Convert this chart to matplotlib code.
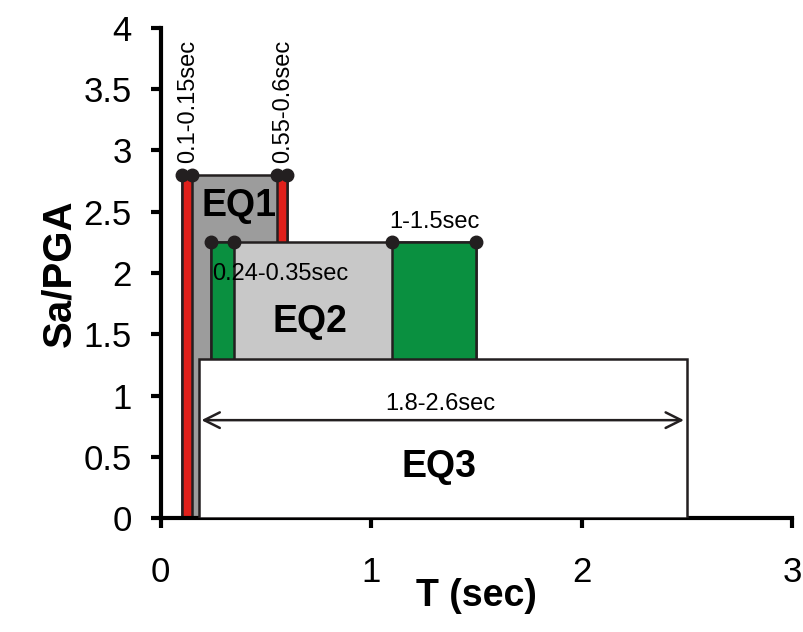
import matplotlib.pyplot as plt
from matplotlib.patches import Rectangle

plt.rcParams['font.family'] = ['Liberation Sans', 'DejaVu Sans']

# plateau boxes (T start, T end, Sa/PGA level)
eq_names = ['EQ1', 'EQ2', 'EQ3']
eq_t0 = [0.10, 0.24, 0.18]
eq_t1 = [0.60, 1.50, 2.50]
eq_level = [2.8, 2.25, 1.3]
eq_colors = ['#9c9c9c', '#c8c8c8', '#ffffff']

# corner period bands
red_bands = [(0.10, 0.15), (0.55, 0.60)]
green_bands = [(0.24, 0.35), (1.10, 1.50)]
band_labels = ['0.1-0.15sec', '0.55-0.6sec', '0.24-0.35sec', '1-1.5sec']
eq3_arrow = (0.18, 2.50, 0.8)
eq3_label = '1.8-2.6sec'

edge = '#231f20'

fig = plt.figure(figsize=(8.04, 6.32), dpi=100)
ax = fig.add_axes([0.2, 0.18, 0.785, 0.776])


def box(x0, x1, h, fc, z):
    ax.add_patch(Rectangle((x0, 0), x1 - x0, h, facecolor=fc, edgecolor=edge, lw=1.8, zorder=z))


box(eq_t0[0], eq_t1[0], eq_level[0], eq_colors[0], 1)
for a, b in red_bands:
    box(a, b, eq_level[0], '#e0201b', 2)
box(eq_t0[1], eq_t1[1], eq_level[1], eq_colors[1], 3)
for a, b in green_bands:
    box(a, b, eq_level[1], '#0a9040', 4)
box(eq_t0[2], eq_t1[2], eq_level[2], eq_colors[2], 5)

# dots on the band corners
for a, b in red_bands:
    ax.plot([a, b], [eq_level[0]] * 2, 'o', color=edge, ms=9, zorder=6, clip_on=False)
for a, b in green_bands:
    ax.plot([a, b], [eq_level[1]] * 2, 'o', color=edge, ms=9, zorder=6, clip_on=False)

# band labels
fs = 17
ax.text(0.13, eq_level[0] + 0.1, band_labels[0], rotation=90, ha='center', va='bottom', fontsize=fs, zorder=7)
ax.text(0.58, eq_level[0] + 0.1, band_labels[1], rotation=90, ha='center', va='bottom', fontsize=fs, zorder=7)
ax.text(0.245, 1.99, band_labels[2], ha='left', va='center', fontsize=fs, zorder=7)
ax.text(1.30, eq_level[1] + 0.08, band_labels[3], ha='center', va='bottom', fontsize=fs, zorder=7)

# EQ3 plateau arrow
ax.annotate('', xy=(eq3_arrow[0], eq3_arrow[2]), xytext=(eq3_arrow[1], eq3_arrow[2]),
            arrowprops=dict(arrowstyle='<->', color=edge, lw=1.8, mutation_scale=28), zorder=7)
ax.text((eq3_arrow[0] + eq3_arrow[1]) / 2 - 0.01, eq3_arrow[2] + 0.04, eq3_label,
        ha='center', va='bottom', fontsize=fs, zorder=7)

# box names
ax.text(0.37, 2.55, eq_names[0], ha='center', va='center', fontsize=27, fontweight='bold', zorder=7)
ax.text(0.71, 1.6, eq_names[1], ha='center', va='center', fontsize=27, fontweight='bold', zorder=7)
ax.text(1.32, 0.42, eq_names[2], ha='center', va='center', fontsize=27, fontweight='bold', zorder=7)

ax.set_xlim(0, 3)
ax.set_ylim(0, 4)
ax.set_xticks([0, 1, 2, 3])
ax.set_yticks([0, 0.5, 1, 1.5, 2, 2.5, 3, 3.5, 4])
ax.set_yticklabels(['0', '0.5', '1', '1.5', '2', '2.5', '3', '3.5', '4'])
for s in ['top', 'right']:
    ax.spines[s].set_visible(False)
for s in ['left', 'bottom']:
    ax.spines[s].set_linewidth(3)
    ax.spines[s].set_color('black')
ax.tick_params(axis='x', length=7, width=3, pad=20, labelsize=25)
ax.tick_params(axis='y', length=7, width=3, pad=14, labelsize=25)
ax.set_xlabel('T (sec)', fontsize=27, fontweight='bold', labelpad=-8)
ax.set_ylabel('Sa/PGA', fontsize=29, fontweight='bold', labelpad=4)

plt.savefig('out.png', dpi=100)
